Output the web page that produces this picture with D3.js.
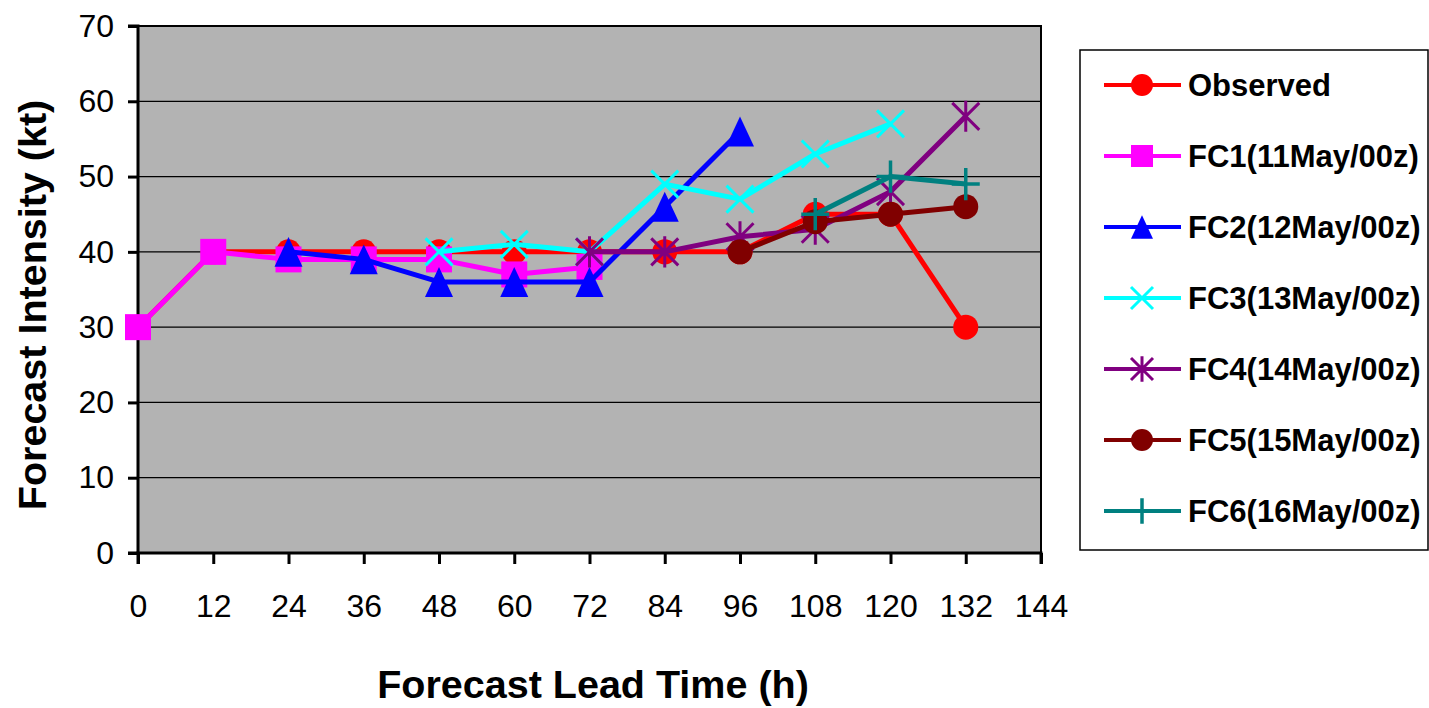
<!DOCTYPE html>
<html>
<head>
<meta charset="utf-8">
<script src="https://cdn.jsdelivr.net/npm/d3@7"></script>
<style>
  html, body { margin: 0; padding: 0; background: #fff; }
  svg { display: block; }
  text { font-family: "Liberation Sans", Arial, sans-serif; }
</style>
</head>
<body>
<svg id="chart" width="1429" height="708"></svg>
<script>
// ---- data ----
const hours = [0, 12, 24, 36, 48, 60, 72, 84, 96, 108, 120, 132];
const xTicks = [0, 12, 24, 36, 48, 60, 72, 84, 96, 108, 120, 132, 144];
const yTicks = [0, 10, 20, 30, 40, 50, 60, 70];
const seriesNames = ["Observed", "FC1(11May/00z)", "FC2(12May/00z)", "FC3(13May/00z)", "FC4(14May/00z)", "FC5(15May/00z)", "FC6(16May/00z)"];
const observed = [30, 40, 40, 40, 40, 40, 40, 40, 40, 45, 45, 30];
const fc1 = [30, 40, 39, 39, 39, 37, 38, null, null, null, null, null];
const fc2 = [null, null, 40, 39, 36, 36, 36, 46, 56, null, null, null];
const fc3 = [null, null, null, null, 40, 41, 40, 49, 47, 53, 57, null];
const fc4 = [null, null, null, null, null, null, 40, 40, 42, 43, 48, 58];
const fc5 = [null, null, null, null, null, null, null, null, 40, 44, 45, 46];
const fc6 = [null, null, null, null, null, null, null, null, null, 45, 50, 49];
const seriesValues = [observed, fc1, fc2, fc3, fc4, fc5, fc6];
const seriesColors = ["#FF0000", "#FF00FF", "#0000FF", "#00FFFF", "#800080", "#800000", "#008080"];
const seriesMarkers = ["circle", "square", "triangle", "x", "star", "circle", "plus"];

(function () {
// ---- layout ----
const svg = d3.select("#chart");
const pL = 138, pR = 1041, pT = 26, pB = 553;
const x = d3.scaleLinear().domain([0, 144]).range([pL, pR]);
const y = d3.scaleLinear().domain([0, 70]).range([pB, pT]);

// plot background
svg.append("rect").attr("x", pL).attr("y", pT)
  .attr("width", pR - pL).attr("height", pB - pT)
  .attr("fill", "#b3b3b3");

// gridlines
svg.append("g").selectAll("line").data(yTicks.filter(t => t > 0 && t < 70)).join("line")
  .attr("x1", pL).attr("x2", pR)
  .attr("y1", d => y(d)).attr("y2", d => y(d))
  .attr("stroke", "#000").attr("stroke-width", 1.2);

// border (top / right)
svg.append("rect").attr("x", pL).attr("y", pT)
  .attr("width", pR - pL).attr("height", pB - pT)
  .attr("fill", "none").attr("stroke", "#000").attr("stroke-width", 2);

// axes
const yAxis = d3.axisLeft(y).tickValues(yTicks).tickSize(10).tickPadding(14).tickFormat(d3.format("d"));
const gy = svg.append("g").attr("transform", `translate(${pL},0)`).call(yAxis);
const xAxis = d3.axisBottom(x).tickValues(xTicks).tickSize(11).tickPadding(30).tickFormat(d3.format("d"));
const gx = svg.append("g").attr("transform", `translate(0,${pB})`).call(xAxis);
[gx, gy].forEach(g => {
  g.select(".domain").attr("stroke", "#000").attr("stroke-width", 3);
  g.selectAll(".tick line").attr("stroke", "#000").attr("stroke-width", 3);
  g.selectAll(".tick text").attr("font-size", 32).attr("fill", "#000")
    .attr("font-family", "'Liberation Sans', Arial, sans-serif");
});
gy.select(".domain").attr("d", `M-10,${pB}H0V${pT}H-10`);
gx.select(".domain").attr("d", `M${pL},11V0H${pR}V11`);

// axis titles
svg.append("text").attr("x", 593).attr("y", 698)
  .attr("text-anchor", "middle").attr("font-size", 39.5).attr("font-weight", "bold")
  .text("Forecast Lead Time (h)");
svg.append("text").attr("transform", "translate(46,305) rotate(-90)")
  .attr("text-anchor", "middle").attr("font-size", 39.5).attr("font-weight", "bold")
  .text("Forecast Intensity (kt)");

// marker drawing
function drawMarker(g, type, color, s) {
  if (type === "circle") {
    g.append("circle").attr("r", s * 0.5).attr("fill", color);
  } else if (type === "square") {
    g.append("rect").attr("x", -s / 2).attr("y", -s / 2).attr("width", s).attr("height", s).attr("fill", color);
  } else if (type === "triangle") {
    const h = s * 1.07;
    g.append("path").attr("d", `M0,${-h / 2}L${s / 2},${h / 2}L${-s / 2},${h / 2}Z`).attr("fill", color);
  } else if (type === "x") {
    const a = s / 2;
    g.append("path").attr("d", `M${-a},${-a}L${a},${a}M${-a},${a}L${a},${-a}`)
      .attr("stroke", color).attr("stroke-width", 3).attr("fill", "none");
  } else if (type === "star") {
    const a = s / 2;
    g.append("path").attr("d", `M${-a},${-a}L${a},${a}M${-a},${a}L${a},${-a}M0,${-a * 1.15}L0,${a * 1.15}`)
      .attr("stroke", color).attr("stroke-width", 3).attr("fill", "none");
  } else if (type === "plus") {
    const a = s / 2;
    g.append("path").attr("d", `M${-a},0L${a},0M0,${-a * 1.15}L0,${a * 1.15}`)
      .attr("stroke", color).attr("stroke-width", 3.5).attr("fill", "none");
  }
}
const markerSizes = { circle: 25, square: 26, triangle: 28, x: 27, star: 27, plus: 28 };

// series
const line = d3.line().defined(d => d[1] != null).x(d => x(d[0])).y(d => y(d[1]));
seriesValues.forEach((vals, i) => {
  const pts = hours.map((h, j) => [h, vals[j]]);
  const g = svg.append("g");
  g.append("path").datum(pts).attr("d", line)
    .attr("fill", "none").attr("stroke", seriesColors[i]).attr("stroke-width", 5)
    .attr("stroke-linejoin", "round");
  pts.filter(p => p[1] != null).forEach(p => {
    const mg = g.append("g").attr("transform", `translate(${x(p[0])},${y(p[1])})`);
    drawMarker(mg, seriesMarkers[i], seriesColors[i], markerSizes[seriesMarkers[i]]);
  });
});

// legend
const lg = svg.append("g");
lg.append("rect").attr("x", 1080).attr("y", 50).attr("width", 348).attr("height", 500)
  .attr("fill", "#fff").attr("stroke", "#000").attr("stroke-width", 1.5);
const legendY0 = 85, legendStep = 71;
seriesNames.forEach((name, i) => {
  const yy = legendY0 + i * legendStep;
  lg.append("line").attr("x1", 1104).attr("x2", 1181).attr("y1", yy).attr("y2", yy)
    .attr("stroke", seriesColors[i]).attr("stroke-width", 4);
  const mg = lg.append("g").attr("transform", `translate(1142,${yy})`);
  drawMarker(mg, seriesMarkers[i], seriesColors[i], 22);
  lg.append("text").attr("x", 1188).attr("y", yy + 11)
    .attr("font-size", 31).attr("font-weight", "bold").attr("fill", "#000")
    .text(name);
});
})();
</script>
</body>
</html>
